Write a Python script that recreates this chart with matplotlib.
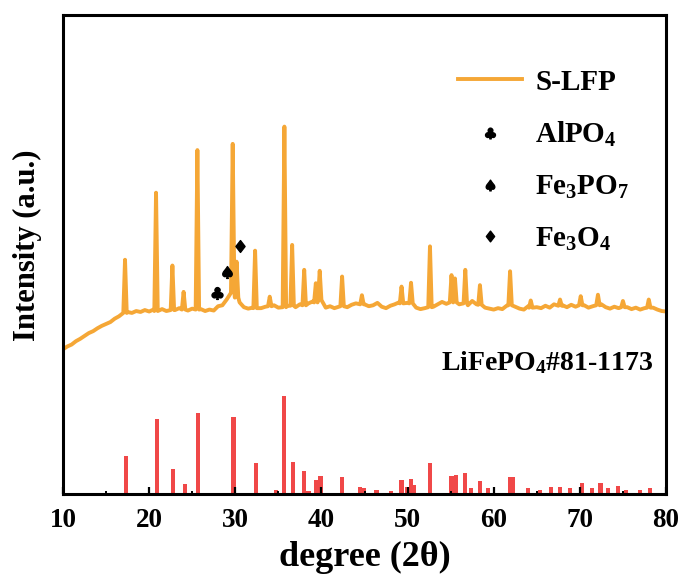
import numpy as np
import matplotlib
matplotlib.use("Agg")
import matplotlib.pyplot as plt
from matplotlib.lines import Line2D
from matplotlib.textpath import TextPath
from matplotlib.font_manager import FontProperties
from matplotlib.path import Path

# ---------------- data ----------------
# S-LFP background, sampled every 0.5 deg from 10 to 80 (2theta)
bg_x = np.arange(10.0, 80.01, 0.5)
bg_y = [30.2, 30.8, 31.2, 31.9, 32.4, 33.0, 33.6, 34.0, 34.6, 35.1,   # 10-14.5
        35.5, 35.9, 36.6, 37.1, 37.6, 38.0, 37.8, 38.2, 38.0, 38.4,   # 15-19.5
        38.1, 38.5, 38.3, 38.6, 38.2, 38.7, 38.4, 38.8, 38.5, 38.3,   # 20-24.5
        38.7, 38.4, 38.6, 38.2, 38.5, 38.3, 39.2, 39.4, 40.6, 41.5,   # 25-29.5
        42.5, 40.0, 39.0, 38.7, 38.9, 38.6, 38.8, 39.1, 40.3, 39.4,   # 30-34.5
        38.9, 39.0, 39.3, 39.4, 39.0, 39.6, 39.2, 39.8, 40.2, 39.6,   # 35-39.5
        39.3, 38.9, 39.2, 38.8, 39.1, 39.4, 39.0, 39.5, 39.8, 40.4,   # 40-44.5
        39.6, 39.2, 39.4, 39.9, 39.1, 38.8, 39.3, 39.6, 40.0, 39.8,   # 45-49.5
        39.9, 39.6, 38.9, 38.6, 38.8, 39.2, 39.1, 39.6, 40.1, 39.7,   # 50-54.5
        40.0, 40.2, 39.6, 39.8, 39.4, 40.3, 39.6, 39.5, 38.9, 38.7,   # 55-59.5
        38.5, 38.8, 38.6, 39.3, 40.2, 39.1, 38.7, 38.5, 39.2, 39.8,   # 60-64.5
        39.0, 38.8, 39.3, 38.9, 39.6, 40.1, 39.4, 39.0, 39.5, 39.1,   # 65-69.5
        40.3, 39.4, 38.9, 39.2, 40.6, 39.6, 39.0, 38.7, 39.1, 38.8,   # 70-74.5
        39.8, 39.0, 38.6, 38.9, 38.5, 38.8, 39.6, 38.9, 38.5, 38.2,   # 75-79.5
        38.1]                                                          # 80

# S-LFP diffraction peaks: position, top intensity, foot intensity
peak_pos = [17.2, 20.8, 22.7, 24.0, 25.6, 29.7, 30.15, 32.3, 34.0, 35.7,
            36.6, 38.0, 39.35, 39.8, 42.4, 44.7, 49.3, 50.4, 52.6, 55.1,
            55.5, 56.7, 58.4, 61.9, 64.3, 67.7, 70.1, 72.1, 75.0, 78.0]
peak_top = [48.9, 62.9, 47.7, 42.2, 71.8, 73.1, 48.5, 50.8, 41.2, 76.7,
            52.0, 46.8, 44.0, 46.6, 45.4, 41.5, 43.3, 44.1, 51.7, 45.7,
            45.0, 46.8, 43.6, 46.5, 40.4, 40.6, 41.3, 41.6, 40.3, 40.6]
peak_foot = [37.8, 38.2, 38.4, 38.5, 38.5, 42.0, 41.0, 38.8, 39.2, 39.0,
             39.3, 39.4, 40.0, 40.5, 39.2, 39.6, 39.8, 39.8, 39.0, 40.0,
             40.0, 39.8, 39.5, 39.4, 38.9, 39.3, 39.4, 39.4, 39.0, 38.9]

# LiFePO4 reference card #81-1173 (stick pattern)
ref_pos = [17.3, 20.9, 22.8, 24.2, 25.7, 29.8, 32.4, 34.7, 35.7, 36.7,
           38.0, 38.5, 39.4, 39.9, 42.4, 44.5, 44.9, 46.4, 48.1, 49.3,
           49.9, 50.4, 50.7, 52.6, 55.1, 55.6, 56.7, 57.4, 58.4, 59.3,
           61.9, 62.2, 64.0, 65.4, 66.6, 67.7, 68.9, 70.2, 71.4, 72.4,
           73.3, 74.4, 75.4, 77.0, 78.1]
ref_int = [7.9, 15.7, 5.2, 2.1, 16.9, 16.1, 6.5, 0.8, 20.5, 6.7,
           4.7, 0.7, 2.9, 3.8, 3.5, 1.5, 1.2, 0.8, 0.7, 2.9,
           1.5, 3.1, 1.9, 6.5, 3.8, 3.9, 4.4, 1.2, 2.8, 1.2,
           3.6, 3.5, 1.2, 0.8, 1.5, 1.4, 1.2, 2.2, 1.2, 2.4,
           1.2, 1.6, 0.8, 0.8, 1.2]

# impurity-phase markers
phase_names = ["AlPO$_4$", "Fe$_3$PO$_7$", "Fe$_3$O$_4$"]
phase_symbols = ["\u2663", "\u2660", "\u2666"]
phase_x = [27.9, 29.0, 30.55]
phase_y = [41.9, 46.4, 51.8]

xticks = [10, 20, 30, 40, 50, 60, 70, 80]

# ---------------- build the trace ----------------
half_w = 0.2
pts = []
for x, y in zip(bg_x, bg_y):
    if min(abs(x - p) for p in peak_pos) > half_w + 0.01:
        pts.append((x, y))
for p, t, f in zip(peak_pos, peak_top, peak_foot):
    pts += [(p - half_w, f), (p, t), (p + half_w, f)]
pts.sort(key=lambda a: a[0])
trace_x = [a[0] for a in pts]
trace_y = [a[1] for a in pts]

# ---------------- style ----------------
plt.rcParams['font.family'] = ['Liberation Serif', 'DejaVu Sans']
plt.rcParams['font.weight'] = 'bold'
plt.rcParams['mathtext.fontset'] = 'custom'
plt.rcParams['mathtext.rm'] = 'Liberation Serif:bold'
plt.rcParams['mathtext.it'] = 'Liberation Serif:italic:bold'
plt.rcParams['mathtext.bf'] = 'Liberation Serif:bold'

ORANGE = '#F5A736'
RED = '#F04848'


def glyph_marker(ch):
    tp = TextPath((0, 0), ch, prop=FontProperties(family='DejaVu Sans'), size=10)
    ext = tp.get_extents()
    cx, cy = (ext.x0 + ext.x1) / 2, (ext.y0 + ext.y1) / 2
    return Path(tp.vertices - [cx, cy], tp.codes)


fig = plt.figure(figsize=(6.83, 5.79), dpi=100)
ax = fig.add_axes([63 / 683, 85 / 579, 603 / 683, 479 / 579])

ax.plot(trace_x, trace_y, color=ORANGE, lw=2.8, solid_joinstyle='round')
ax.bar(ref_pos, ref_int, width=0.48, color=RED, linewidth=0)

for s, x, y in zip(phase_symbols, phase_x, phase_y):
    ax.plot([x], [y], linestyle='none', marker=glyph_marker(s),
            markersize=10.5, color='black')

ax.set_xlim(10, 80)
ax.set_ylim(0, 100)
ax.set_xticks(xticks)
ax.set_xticks([15, 25, 35, 45, 55, 65, 75], minor=True)
ax.set_yticks([])
ax.tick_params(axis='x', which='major', direction='in', length=5, width=1.6,
               labelsize=19.5, pad=10)
ax.tick_params(axis='x', which='minor', direction='in', length=2.5, width=1.4)
for sp in ax.spines.values():
    sp.set_linewidth(2.2)

ax.set_xlabel("degree (2\u03b8)", fontsize=26, fontweight='bold', labelpad=6)
ax.set_ylabel("Intensity (a.u.)", fontsize=22, fontweight='bold')
ax.yaxis.set_label_coords(-0.035, 0.52)

handles = [Line2D([], [], color=ORANGE, lw=2.8)]
labels = ["S-LFP"]
for s, n in zip(phase_symbols, phase_names):
    handles.append(Line2D([], [], linestyle='none', marker=glyph_marker(s),
                          markersize=9.5, color='black'))
    labels.append(n)
ax.legend(handles, labels, loc='upper left', bbox_to_anchor=(0.655, 0.888),
          frameon=False, handlelength=2.2, handletextpad=0.45,
          labelspacing=0.84, borderpad=0, borderaxespad=0,
          prop={'weight': 'bold', 'size': 21})

ax.text(0.978, 0.259, "LiFePO$_4$#81-1173", transform=ax.transAxes,
        ha='right', va='baseline', fontsize=20, fontweight='bold')

fig.savefig("out.png", dpi=100)
